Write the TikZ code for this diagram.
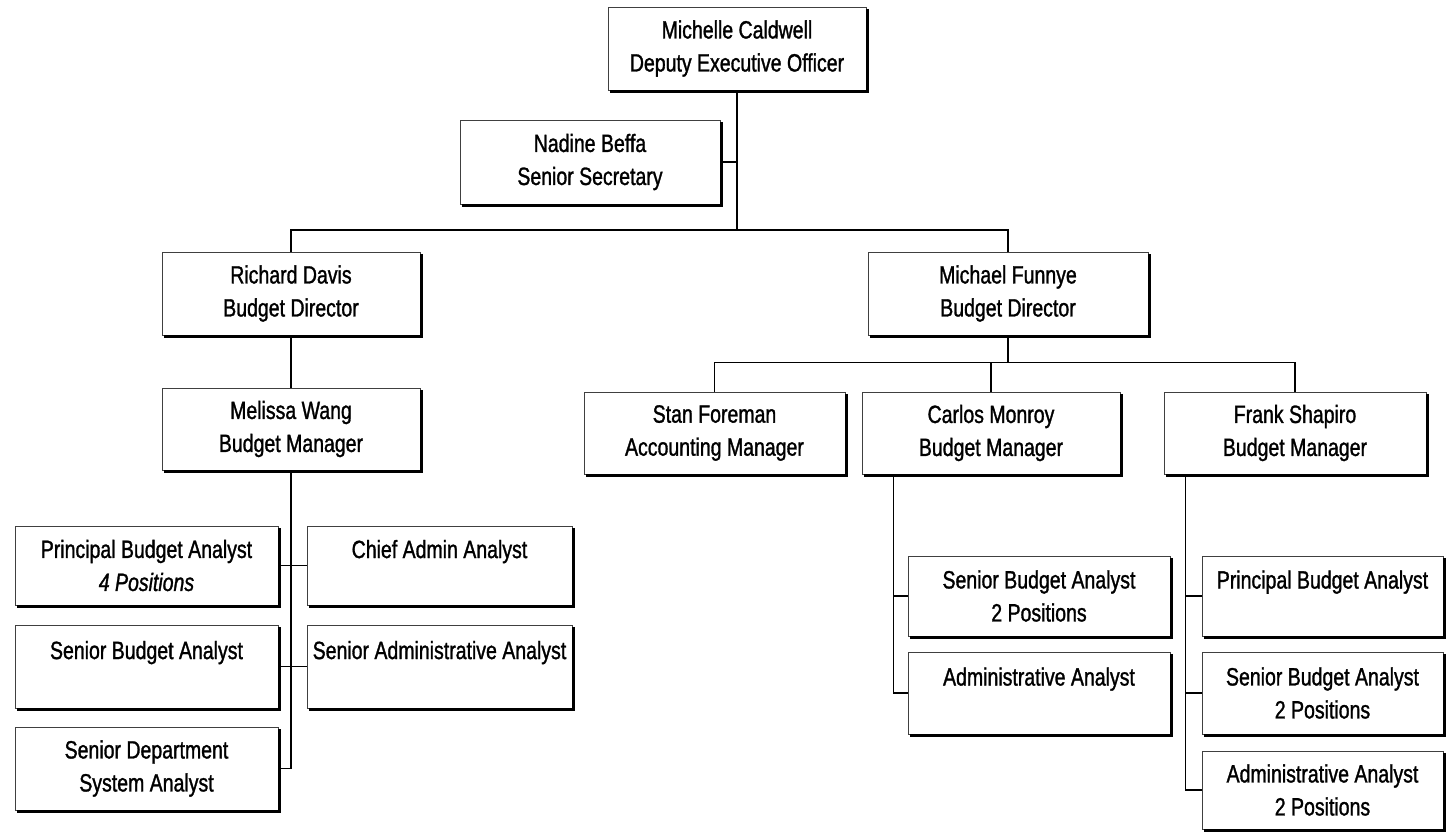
\documentclass[tikz,border=0pt]{standalone}
\usepackage{fontspec}
\setmainfont{Liberation Sans}[FakeStretch=0.78,FakeBold=1.2]
\newcommand\obox[6]{%
  \node[box, minimum width={(#4-#2)*1pt}, minimum height={(#5-#3)*1pt}] (#1) at ({(#2+#4)/2},{(#3+#5)/2}) {#6};
  \draw[shadowline] ([xshift=1.4pt,yshift=-4pt]#1.north east) -- ([xshift=1.4pt,yshift=-1.4pt]#1.south east) -- ([xshift=4pt,yshift=-1.4pt]#1.south west);
}
\begin{document}
\begin{tikzpicture}[x=1pt,y=-1pt,
  box/.style={draw=black!75, line width=0.7pt, fill=white, align=center,
    font=\fontsize{25}{33}\selectfont, inner sep=0pt},
  shadowline/.style={line width=2.8pt, black, line cap=rect},
  link/.style={line width=1.6pt, black}]
\useasboundingbox (0,0) rectangle (1448,832);

\obox{mc}{608}{7}{866}{90}{Michelle Caldwell\\Deputy Executive Officer}
\obox{nb}{460}{120}{720}{204}{Nadine Beffa\\Senior Secretary}
\obox{rd}{162}{252}{420}{335}{Richard Davis\\Budget Director}
\obox{mf}{868}{252}{1148}{335}{Michael Funnye\\Budget Director}
\obox{mw}{162}{388}{420}{470}{Melissa Wang\\Budget Manager}
\obox{sf}{584}{392}{845}{474}{Stan Foreman\\Accounting Manager}
\obox{cm}{862}{392}{1120}{474}{Carlos Monroy\\Budget Manager}
\obox{fs}{1164}{392}{1426}{474}{Frank Shapiro\\Budget Manager}
\obox{pba}{15}{526}{278}{605}{Principal Budget Analyst\\\textit{4 Positions}}
\obox{caa}{307}{526}{572}{605}{Chief Admin Analyst\\~}
\obox{sba}{15}{625}{278}{708}{Senior Budget Analyst\\~}
\obox{saa}{307}{625}{572}{708}{Senior Administrative Analyst\\~}
\obox{sda}{15}{727}{278}{810}{Senior Department\\System Analyst}
\obox{cs1}{908}{556}{1170}{636}{Senior Budget Analyst\\2 Positions}
\obox{ca2}{908}{652}{1170}{734}{Administrative Analyst\\~}
\obox{fp1}{1202}{556}{1443}{636}{Principal Budget Analyst\\~}
\obox{fs2}{1202}{652}{1443}{734}{Senior Budget Analyst\\2 Positions}
\obox{fa3}{1202}{751}{1443}{829}{Administrative Analyst\\2 Positions}

\coordinate (j0) at (737,230);
\draw[link] (mc.south) -- (j0);
\draw[link] (nb.east) -- (nb.east -| j0);
\draw[link] (rd.north) |- (j0) -| (mf.north);
\draw[link] (rd.south) -- (mw.north);
\path (mf.south) ++(0,27) coordinate (j1);
\draw[link] (mf.south) -- (j1);
\draw[link] (sf.north) |- (j1) -| (fs.north);
\draw[link] (cm.north) -- (cm.north |- j1);

\coordinate (t1) at (mw.south |- sda.east);
\draw[link] (mw.south) -- (t1) -- (sda.east);
\draw[link] (pba.east) -- (caa.west);
\draw[link] (sba.east) -- (saa.west);

\coordinate (c0) at ([xshift=32pt]cm.south west);
\draw[link] (c0) |- (ca2.west);
\draw[link] (cs1.west) -- (cs1.west -| c0);

\coordinate (f0) at ([xshift=22pt]fs.south west);
\draw[link] (f0) |- (fa3.west);
\draw[link] (fp1.west) -- (fp1.west -| f0);
\draw[link] (fs2.west) -- (fs2.west -| f0);
\end{tikzpicture}
\end{document}
